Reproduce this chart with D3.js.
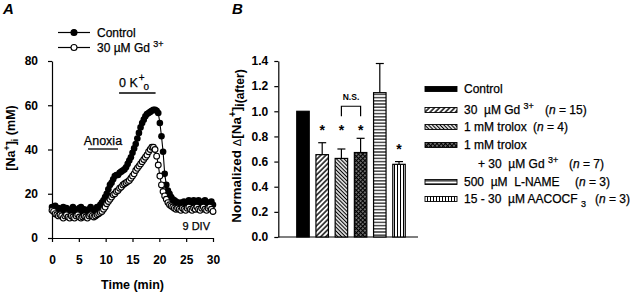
<!DOCTYPE html>
<html><head><meta charset="utf-8">
<script src="https://cdn.jsdelivr.net/npm/d3@7"></script>
<style>
body{margin:0;background:#fff}
svg{font-family:"Liberation Sans",Arial,Helvetica,sans-serif;}
.reg{stroke:#000;stroke-width:0.25px;}
</style></head><body>
<svg id="c" width="640" height="294"></svg>
<script>
// ---------- Panel A data ----------
const timeStep = 0.3; // minutes between samples, starting at 0
const controlNa = [14,13,14.5,12.5,13.5,12,13,14,12,13.5,12,11.5,13,14,12,11.5,13,13.5,14,12,13,12,11.5,13,14,12,12.5,13,14,14,
  15,16,17,18.5,20,22,24,25,26.5,28,
  28.5,28.5,29.5,30,30.5,31,32,33.5,35,36.5,
  38.5,40.5,42.5,45,47.5,50,52,53.5,55,56,
  56.5,57,57.5,58,58,57.5,56.5,52,46,39,
  29,24,21.5,20,18.5,17.5,17,16.5,16,15.5,
  16,15,16.5,15.5,16,17,16,15,17,16,
  15.5,17,16,15,16.5,17,15.5,16,15,16.5,
  15];
const gdNa = [12.5,12,11,10.5,10,10.5,10,9,10,10.5,9.5,9,10,9.5,9,10,10.5,9.5,9,9.5,10,9.5,9,10,10.5,10,9.5,10,10.5,11,
  11.5,12,13,14,15.5,16.5,17.5,18.5,19.5,20,
  21,21.5,22.5,23,24,24.5,25,25.5,26,27,
  28,29,30.5,31.5,32.5,33.5,34.5,35.5,36.5,37.5,
  39,40,41,41,40,37,33,28,24,21,
  19,17.5,16,15,14.5,14,13.5,13,13.5,13,
  12.5,13.5,13,12.5,13.5,14,13,12.5,13.5,13,
  14,13,12.5,13.5,14,13,12.5,13.5,14,13,
  12];
const timeTicks = [0,5,10,15,20,25,30];
const naTicks = [0,20,40,60,80];
const anoxiaPeriod = [6.7, 12.3];
const zeroKPeriod = [12.5, 19.3];

// ---------- Panel B data ----------
const barCategories = ["Control","30 µM Gd3+","1 mM trolox","1 mM trolox + 30 µM Gd3+","500 µM L-NAME","15 - 30 µM AACOCF3"];
const barValues = [1.0, 0.655, 0.625, 0.672, 1.148, 0.578];
const barErrors = [0, 0.095, 0.075, 0.113, 0.232, 0.022];
const starLevels = [null, 0.865, 0.865, 0.865, null, 0.715];
const nsPair = [2, 3];
const normTicks = [0, 0.2, 0.4, 0.6, 0.8, 1.0, 1.2, 1.4];

const svg = d3.select("#c");
const FS = 12;

// ---------- patterns ----------
const defs = svg.append("defs");
function linePattern(id, size, sw, rot) {
  const p = defs.append("pattern").attr("id", id).attr("patternUnits", "userSpaceOnUse")
    .attr("width", size).attr("height", size).attr("patternTransform", `rotate(${rot})`);
  p.append("rect").attr("width", size).attr("height", size).attr("fill", "#fff");
  p.append("line").attr("x1", size/2).attr("x2", size/2).attr("y1", 0).attr("y2", size)
    .attr("stroke", "#000").attr("stroke-width", sw);
}
linePattern("pGd", 3.6, 1.4, 45);
linePattern("pTrolox", 2.7, 1.2, -45);
linePattern("pLname", 3.2, 1.1, 90);
linePattern("pAac", 3.0, 1.0, 0);
{
  const p = defs.append("pattern").attr("id", "pMix").attr("patternUnits", "userSpaceOnUse")
    .attr("width", 3).attr("height", 3).attr("patternTransform", "rotate(45)");
  p.append("rect").attr("width", 3).attr("height", 3).attr("fill", "#000");
  p.append("rect").attr("x", 0.4).attr("y", 0.4).attr("width", 1.3).attr("height", 1.3).attr("fill", "#fff");
}
const fills = ["#000", "url(#pGd)", "url(#pTrolox)", "url(#pMix)", "url(#pLname)", "url(#pAac)"];

// ================= Panel A =================
const xA = d3.scaleLinear().domain([0, 30]).range([52, 213]);
const yA = d3.scaleLinear().domain([0, 80]).range([238, 61]);
const gA = svg.append("g");

const axA_y = gA.append("g").attr("transform", `translate(${xA(0)},0)`)
  .call(d3.axisLeft(yA).tickValues(naTicks).tickSize(4).tickPadding(10).tickSizeOuter(0));
const axA_x = gA.append("g").attr("transform", `translate(0,${yA(0)})`)
  .call(d3.axisBottom(xA).tickValues(timeTicks).tickSize(4).tickPadding(13).tickSizeOuter(0));
[axA_y, axA_x].forEach(a => {
  a.selectAll("text").attr("font-size", FS).attr("font-weight", "bold").attr("font-family", null).attr("fill", "#000");
  a.selectAll("line,path").attr("stroke", "#000").attr("stroke-width", 1.2);
});

const ctrlPts = controlNa.map((v, i) => [i * timeStep, v]);
const gdPts = gdNa.map((v, i) => [i * timeStep, v]);
const line = d3.line().x(d => xA(d[0])).y(d => yA(d[1]));
gA.append("path").attr("d", line(ctrlPts)).attr("fill", "none").attr("stroke", "#000").attr("stroke-width", 1.1);
gA.append("g").selectAll("circle").data(ctrlPts).join("circle")
  .attr("cx", d => xA(d[0])).attr("cy", d => yA(d[1])).attr("r", 3.3).attr("fill", "#000");
gA.append("path").attr("d", line(gdPts)).attr("fill", "none").attr("stroke", "#000").attr("stroke-width", 1.1);
gA.append("g").selectAll("circle").data(gdPts).join("circle")
  .attr("cx", d => xA(d[0])).attr("cy", d => yA(d[1])).attr("r", 2.9)
  .attr("fill", "#fff").attr("stroke", "#000").attr("stroke-width", 1.1);

// period bars
gA.append("line").attr("x1", xA(anoxiaPeriod[0])).attr("x2", xA(anoxiaPeriod[1]))
  .attr("y1", 149).attr("y2", 149).attr("stroke", "#000").attr("stroke-width", 1.3);
gA.append("text").attr("class", "reg").attr("x", (xA(anoxiaPeriod[0]) + xA(anoxiaPeriod[1])) / 2).attr("y", 145)
  .attr("text-anchor", "middle").attr("font-size", 12.5).text("Anoxia");
gA.append("line").attr("x1", xA(zeroKPeriod[0])).attr("x2", xA(zeroKPeriod[1]))
  .attr("y1", 93).attr("y2", 93).attr("stroke", "#000").attr("stroke-width", 1.3);
{
  const t = gA.append("text").attr("class", "reg").attr("x", 119).attr("y", 87).attr("font-size", 12.5);
  t.append("tspan").text("0 K");
  t.append("tspan").attr("font-size", 10).attr("dy", -6).attr("dx", 1).text("+");
  t.append("tspan").attr("font-size", 10).attr("dy", 9).attr("dx", -1).text("o");
}
gA.append("text").attr("class", "reg").attr("x", 210).attr("y", 230).attr("text-anchor", "end").attr("font-size", 11).text("9 DIV");

// legend A
[["Control", true, 32.5], ["30", false, 47.5]].forEach(([lab, filled, yy]) => {
  gA.append("line").attr("x1", 58).attr("x2", 90).attr("y1", yy).attr("y2", yy).attr("stroke", "#000").attr("stroke-width", 1.2);
  gA.append("circle").attr("cx", 74).attr("cy", yy).attr("r", 3)
    .attr("fill", filled ? "#000" : "#fff").attr("stroke", "#000").attr("stroke-width", 1.1);
  const t = gA.append("text").attr("class", "reg").attr("x", 97).attr("y", yy + 4).attr("font-size", FS);
  if (filled) t.text(lab);
  else {
    t.append("tspan").text("30 ");
    t.append("tspan").text(" µM Gd ");
    t.append("tspan").attr("font-size", 9).attr("dy", -5).text("3+");
  }
});

// y label A
{
  const t = gA.append("text").attr("transform", "translate(15,138) rotate(-90)")
    .attr("text-anchor", "middle").attr("font-size", 12.5).attr("font-weight", "bold");
  t.append("tspan").text("[Na");
  t.append("tspan").attr("font-size", 9).attr("dy", -5).text("+");
  t.append("tspan").attr("dy", 5).text("]");
  t.append("tspan").attr("font-size", 9).attr("dy", 3).text("i");
  t.append("tspan").attr("dy", -3).text(" (mM)");
}
gA.append("text").attr("x", xA(15)).attr("y", 289).attr("text-anchor", "middle").attr("font-size", 12.5)
  .attr("font-weight", "bold").text("Time (min)");
gA.append("text").attr("x", 3).attr("y", 14).attr("font-size", 15).attr("font-weight", "bold").attr("font-style", "italic").text("A");

// ================= Panel B =================
const yB = d3.scaleLinear().domain([0, 1.4]).range([237, 61]);
const xB = d3.scaleBand().domain(barCategories).range([296.75, 405.25]).paddingInner(0.35).paddingOuter(0);
const gB = svg.append("g");
const axB = gB.append("g").attr("transform", "translate(278.3,0)")
  .call(d3.axisLeft(yB).tickValues(normTicks).tickFormat(d3.format(".1f")).tickSize(4).tickPadding(6).tickSizeOuter(0));
axB.selectAll("text").attr("font-size", FS).attr("font-weight", "bold").attr("font-family", null).attr("fill", "#000");
axB.selectAll("line,path").attr("stroke", "#000").attr("stroke-width", 1.2);
gB.append("line").attr("x1", 278.3).attr("x2", 418).attr("y1", yB(0)).attr("y2", yB(0)).attr("stroke", "#000").attr("stroke-width", 1.2);

const bars = barCategories.map((c, i) => ({ c, i, v: barValues[i], e: barErrors[i], s: starLevels[i] }));
// error bars
bars.filter(d => d.e > 0).forEach(d => {
  const cx = xB(d.c) + xB.bandwidth() / 2;
  gB.append("line").attr("x1", cx).attr("x2", cx).attr("y1", yB(d.v)).attr("y2", yB(d.v + d.e)).attr("stroke", "#000").attr("stroke-width", 1.2);
  gB.append("line").attr("x1", cx - 4).attr("x2", cx + 4).attr("y1", yB(d.v + d.e)).attr("y2", yB(d.v + d.e)).attr("stroke", "#000").attr("stroke-width", 1.2);
});
gB.append("g").selectAll("rect").data(bars).join("rect")
  .attr("x", d => xB(d.c)).attr("y", d => yB(d.v)).attr("width", xB.bandwidth()).attr("height", d => yB(0) - yB(d.v))
  .attr("fill", d => fills[d.i]).attr("stroke", "#000").attr("stroke-width", 1.2);
gB.append("g").selectAll("text").data(bars.filter(d => d.s !== null)).join("text")
  .attr("x", d => xB(d.c) + xB.bandwidth() / 2).attr("y", d => yB(d.s) + 7).attr("text-anchor", "middle")
  .attr("font-size", 14).attr("font-weight", "bold").text("*");
{
  const a = xB(barCategories[nsPair[0]]) + xB.bandwidth() / 2;
  const b = xB(barCategories[nsPair[1]]) + xB.bandwidth() / 2;
  gB.append("path").attr("d", `M${a},${yB(0.96)}V${yB(1.04)}H${b}V${yB(0.96)}`).attr("fill", "none").attr("stroke", "#000").attr("stroke-width", 1.2);
  gB.append("text").attr("x", (a + b) / 2).attr("y", 100).attr("text-anchor", "middle").attr("font-size", 8.5).attr("font-weight", "bold").text("N.S.");
}
// y label B
{
  const t = gB.append("text").attr("transform", "translate(241,146) rotate(-90)")
    .attr("text-anchor", "middle").attr("font-size", 13.5).attr("font-weight", "bold");
  t.append("tspan").text("Normalized  ");
  t.append("tspan").attr("font-size", 11).attr("font-weight", "normal").text("Δ");
  t.append("tspan").text("[Na");
  t.append("tspan").attr("font-size", 10).attr("dy", -5).text("+");
  t.append("tspan").attr("dy", 5).text("]");
  t.append("tspan").attr("font-size", 12).attr("dy", 3).text("i(after)");
}
gB.append("text").attr("x", 232).attr("y", 14).attr("font-size", 15).attr("font-weight", "bold").attr("font-style", "italic").text("B");

// legend B
const legRows = [
  { i: 0, y: 89, parts: [["Control"]], n: null },
  { i: 1, y: 110, parts: [["30  µM Gd "], ["3+", "sup"]], n: ["15", 545] },
  { i: 2, y: 127, parts: [["1 mM trolox"]], n: ["4", 533] },
  { i: 3, y: 145, parts: [["1 mM trolox"]], n: null },
  { i: null, y: 164, x: 478, parts: [["+ 30  µM Gd "], ["3+", "sup"]], n: ["7", 569] },
  { i: 4, y: 182, parts: [["500  µM  L-NAME"]], n: ["3", 575] },
  { i: 5, y: 199, parts: [["15 - 30  µM AACOCF "], ["3", "sub"]], n: ["3", 595] }
];
legRows.forEach(r => {
  if (r.i !== null) {
    gB.append("rect").attr("x", 425).attr("y", r.y - 2.5).attr("width", 32).attr("height", 5)
      .attr("fill", fills[r.i]).attr("stroke", "#000").attr("stroke-width", 0.9);
  }
  const t = gB.append("text").attr("class", "reg").attr("x", r.x || 464).attr("y", r.y + 4).attr("font-size", FS).attr("xml:space", "preserve");
  r.parts.forEach(p => {
    const ts = t.append("tspan").text(p[0]);
    if (p[1] === "sup") ts.attr("font-size", 9).attr("dy", -5);
    if (p[1] === "sub") ts.attr("font-size", 9).attr("dy", 4);
  });
  if (r.n) {
    const tn = gB.append("text").attr("class", "reg").attr("x", r.n[1]).attr("y", r.y + 4).attr("font-size", FS).attr("xml:space", "preserve");
    tn.append("tspan").text("(");
    tn.append("tspan").attr("font-style", "italic").text("n");
    tn.append("tspan").text(" = " + r.n[0] + ")");
  }
});
</script>
</body></html>
